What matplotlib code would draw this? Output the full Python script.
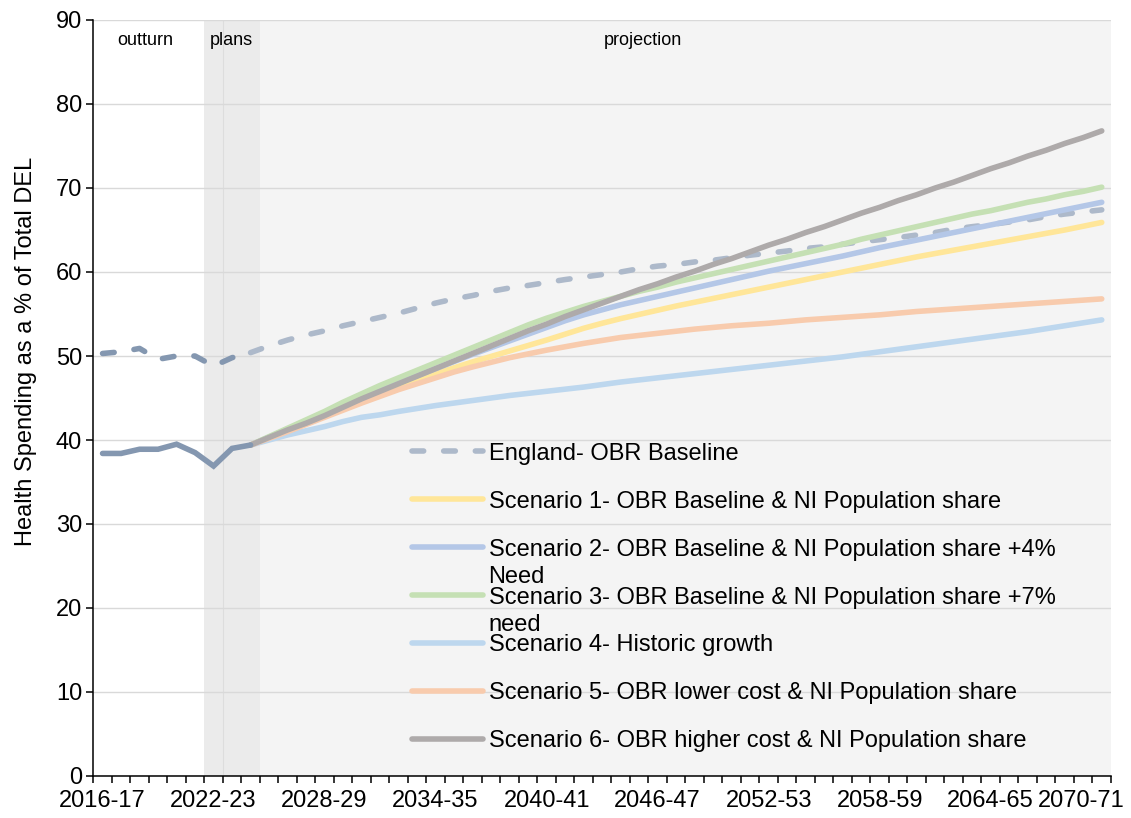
import matplotlib
matplotlib.use("Agg")
import matplotlib.pyplot as plt
import matplotlib.transforms as mtransforms
from matplotlib.lines import Line2D

plt.rcParams['font.family'] = ['Liberation Sans', 'DejaVu Sans']

# categories: financial years 2016-17 .. 2070-71
years = [f"{y}-{(y + 1) % 100:02d}" for y in range(2016, 2071)]
label_every = 6

# outturn + plans (2016-17 .. 2024-25)
ni_outturn = [38.4, 38.4, 38.9, 38.9, 39.5, 38.5, 36.9, 39.0, 39.4]

# England OBR baseline (2016-17 .. 2070-71)
england = [50.3, 50.5, 50.9, 49.6, 50.0, 50.0, 48.8, 49.8, 50.4,
           51.2, 51.9, 52.5, 53.0, 53.6, 54.1, 54.6, 55.1, 55.7, 56.3,
           56.8, 57.2, 57.7, 58.1, 58.4, 58.75, 59.1, 59.4, 59.7, 60.0,
           60.4, 60.7, 60.9, 61.2, 61.4, 61.7, 62.0, 62.25, 62.5, 62.8,
           63.0, 63.3, 63.6, 63.85, 64.1, 64.4, 64.7, 65.1, 65.4, 65.65,
           65.95, 66.2, 66.6, 66.9, 67.15, 67.4]

# scenarios, projection from 2024-25 .. 2070-71
scen1 = [39.4, 40.3, 41.2, 42.05, 42.9, 43.75, 44.6, 45.4, 46.2, 47.05,
         47.9, 48.6, 49.3, 49.95, 50.6, 51.25, 51.9, 52.6, 53.3, 53.9,
         54.45, 54.95, 55.45, 55.95, 56.4, 56.85, 57.3, 57.75, 58.2, 58.65,
         59.1, 59.55, 60.0, 60.45, 60.9, 61.35, 61.8, 62.2, 62.6, 63.0,
         63.4, 63.8, 64.2, 64.6, 65.0, 65.45, 65.9]
scen2 = [39.4, 40.35, 41.3, 42.25, 43.2, 44.1, 45.0, 45.9, 46.8, 47.65,
         48.5, 49.35, 50.2, 51.0, 51.8, 52.6, 53.4, 54.2, 54.9, 55.5,
         56.1, 56.6, 57.1, 57.6, 58.1, 58.6, 59.1, 59.6, 60.1, 60.55,
         61.0, 61.45, 61.9, 62.4, 62.9, 63.35, 63.8, 64.25, 64.7, 65.15,
         65.6, 66.05, 66.5, 66.95, 67.4, 67.85, 68.3]
scen3 = [39.4, 40.4, 41.4, 42.4, 43.4, 44.5, 45.5, 46.5, 47.4, 48.3,
         49.2, 50.1, 51.0, 51.9, 52.8, 53.7, 54.5, 55.2, 55.9, 56.5,
         57.1, 57.7, 58.2, 58.8, 59.3, 59.8, 60.3, 60.8, 61.3, 61.8,
         62.3, 62.8, 63.3, 63.9, 64.4, 64.9, 65.4, 65.9, 66.4, 66.9,
         67.3, 67.8, 68.3, 68.7, 69.2, 69.6, 70.1]
scen4 = [39.4, 40.0, 40.6, 41.1, 41.6, 42.2, 42.7, 43.0, 43.4, 43.75,
         44.1, 44.4, 44.7, 45.0, 45.3, 45.55, 45.8, 46.05, 46.3, 46.6,
         46.9, 47.15, 47.4, 47.65, 47.9, 48.15, 48.4, 48.65, 48.9, 49.15,
         49.4, 49.65, 49.9, 50.2, 50.5, 50.8, 51.1, 51.4, 51.7, 52.0,
         52.3, 52.6, 52.9, 53.25, 53.6, 53.95, 54.3]
scen5 = [39.4, 40.2, 41.0, 41.85, 42.7, 43.55, 44.4, 45.2, 46.0, 46.7,
         47.4, 48.1, 48.7, 49.25, 49.8, 50.25, 50.7, 51.1, 51.5, 51.85,
         52.2, 52.45, 52.7, 52.95, 53.2, 53.4, 53.6, 53.75, 53.9, 54.1,
         54.3, 54.45, 54.6, 54.75, 54.9, 55.1, 55.3, 55.45, 55.6, 55.75,
         55.9, 56.05, 56.2, 56.35, 56.5, 56.65, 56.8]
scen6 = [39.4, 40.3, 41.2, 42.0, 42.9, 43.9, 44.9, 45.8, 46.7, 47.6,
         48.5, 49.4, 50.3, 51.2, 52.1, 53.0, 53.8, 54.7, 55.5, 56.3,
         57.1, 57.9, 58.6, 59.4, 60.1, 60.9, 61.6, 62.4, 63.2, 63.9,
         64.7, 65.4, 66.2, 67.0, 67.7, 68.5, 69.2, 70.0, 70.7, 71.5,
         72.3, 73.0, 73.8, 74.5, 75.3, 76.0, 76.8]

labels = ["England- OBR Baseline",
          "Scenario 1- OBR Baseline & NI Population share",
          "Scenario 2- OBR Baseline & NI Population share +4%",
          "Scenario 3- OBR Baseline & NI Population share +7%",
          "Scenario 4- Historic growth",
          "Scenario 5- OBR lower cost & NI Population share",
          "Scenario 6- OBR higher cost & NI Population share"]
wrapped = {2: "Need", 3: "need"}
colors = ['#ADB9CA', '#FFE699', '#B4C7E7', '#C5E0B4', '#BDD7EE', '#F8CBAD', '#AEAAAA']
dark = '#8497B0'

n_out = len(ni_outturn)          # last outturn/plans point is where projections start
x_all = list(range(len(years)))
x_proj = x_all[n_out - 1:]

fig = plt.figure(figsize=(11.31, 8.18), dpi=100)
ax = fig.add_axes([93.3 / 1131, 1 - 776 / 818, (1111 - 93.3) / 1131, (776 - 20) / 818])

# background bands: plans / projection
ax.axvspan(5.5, n_out - 0.5, color='#EBEBEB', lw=0, zorder=0)
ax.axvspan(n_out - 0.5, len(years) - 0.5, color='#F4F4F4', lw=0, zorder=0)
ax.axvline(6.5, color='#DDDDDD', lw=0.8, zorder=0.2)

lw = 4.0
dash = (0, (2.1, 3.6))
ax.plot(x_all[:n_out], england[:n_out], color=dark, lw=lw, ls=dash,
        dash_capstyle='round', zorder=3)
ax.plot(x_all[n_out - 1:], england[n_out - 1:], color=colors[0], lw=lw, ls=dash,
        dash_capstyle='round', zorder=3)
for i, s in enumerate([scen1, scen2, scen3, scen4, scen5, scen6]):
    ax.plot(x_proj, s, color=colors[i + 1], lw=lw, solid_capstyle='round', zorder=4 + i)
ax.plot(x_all[:n_out], ni_outturn, color=dark, lw=lw, solid_capstyle='round',
        solid_joinstyle='miter', zorder=11)

ax.set_xlim(-0.5, len(years) - 0.5)
ax.set_ylim(0, 90)
ax.set_yticks(range(0, 91, 10))
ax.set_xticks(x_all[::label_every])
ax.set_xticklabels(years[::label_every])
ax.set_xticks([i - 0.5 for i in range(len(years) + 1)], minor=True)
ax.tick_params(axis='x', which='major', length=0, pad=10, labelsize=17)
ax.tick_params(axis='x', which='minor', length=5, width=1.1, direction='out')
ax.tick_params(axis='y', length=5, width=1.1, direction='out', pad=3, labelsize=17)

last = ax.get_xticklabels()[-1]
last.set_transform(last.get_transform() +
                   mtransforms.ScaledTranslation(-0.20, 0, fig.dpi_scale_trans))

ax.yaxis.grid(True, color='#D9D9D9', lw=1.0)
ax.set_axisbelow(True)
for side in ['top', 'right']:
    ax.spines[side].set_visible(False)
for side in ['left', 'bottom']:
    ax.spines[side].set_linewidth(1.1)
    ax.spines[side].set_zorder(12)

ax.set_ylabel("Health Spending as a % of Total DEL", fontsize=17)
ax.yaxis.set_label_coords(-0.0553, 0.5615)

ax.text(2.29, 87.6, "outturn", ha='center', va='center', fontsize=13)
ax.text(6.98, 87.6, "plans", ha='center', va='center', fontsize=13)
ax.text(29.2, 87.6, "projection", ha='center', va='center', fontsize=13)

handles = [Line2D([], [], color=colors[0], lw=lw, ls=dash, dash_capstyle='round')]
handles += [Line2D([], [], color=c, lw=lw, solid_capstyle='round') for c in colors[1:]]
leg = ax.legend(handles, labels, loc='upper left', bbox_to_anchor=(0.313, 0.441),
                frameon=False, fontsize=17, handlelength=3.0, handletextpad=0.25,
                labelspacing=1.1, borderpad=0, borderaxespad=0)
leg.set_zorder(20)
texts = leg.get_texts()
for idx, word in wrapped.items():
    ax.annotate(word, xy=(0, 0), xycoords=texts[idx], xytext=(0, -4),
                textcoords='offset points', va='top', ha='left', fontsize=17, zorder=21)

fig.savefig("out.png", dpi=100)
